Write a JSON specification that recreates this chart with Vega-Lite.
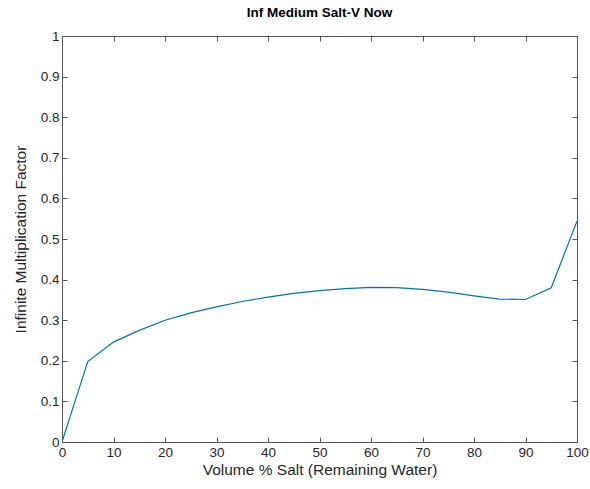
{
  "$schema": "https://vega.github.io/schema/vega-lite/v6.json",
  "autosize": "none",
  "padding": {"left": 62, "top": 36, "right": 13, "bottom": 47},
  "width": 515,
  "height": 406,
  "background": "white",
  "title": {"text": "Inf Medium Salt-V Now", "font": "Liberation Sans", "fontSize": 13.5, "fontWeight": "bold", "color": "#000000", "offset": 10},
  "config": {
    "view": {"stroke": "#555555", "strokeWidth": 1},
    "axis": {"grid": false, "domainColor": "#555555", "tickColor": "#555555", "labelColor": "#262626", "titleColor": "#262626", "labelFont": "Liberation Sans", "titleFont": "Liberation Sans", "labelFontSize": 13.5, "titleFontSize": 15.5, "titleFontWeight": "normal"}
  },
  "data": {"values": [
    {"x": 0, "y": 0.0},
    {"x": 5, "y": 0.198},
    {"x": 10, "y": 0.246},
    {"x": 15, "y": 0.275},
    {"x": 20, "y": 0.300},
    {"x": 25, "y": 0.318},
    {"x": 30, "y": 0.333},
    {"x": 35, "y": 0.346},
    {"x": 40, "y": 0.357},
    {"x": 45, "y": 0.366},
    {"x": 50, "y": 0.373},
    {"x": 55, "y": 0.378},
    {"x": 60, "y": 0.381},
    {"x": 65, "y": 0.380},
    {"x": 70, "y": 0.376},
    {"x": 75, "y": 0.369},
    {"x": 80, "y": 0.360},
    {"x": 85, "y": 0.352},
    {"x": 90, "y": 0.351},
    {"x": 95, "y": 0.380},
    {"x": 100, "y": 0.544}
  ]},
  "layer": [
    {
      "mark": {"type": "line", "color": "#0072BD", "strokeWidth": 1.2, "clip": true},
      "encoding": {
        "x": {"field": "x", "type": "quantitative", "scale": {"domain": [0, 100], "nice": false, "zero": false},
              "axis": {"values": [0,10,20,30,40,50,60,70,80,90,100], "title": "Volume % Salt (Remaining Water)", "tickSize": -5, "labelPadding": 8, "titlePadding": 4, "labelFlush": false}},
        "y": {"field": "y", "type": "quantitative", "scale": {"domain": [0, 1], "nice": false},
              "axis": {"values": [0,0.1,0.2,0.3,0.4,0.5,0.6,0.7,0.8,0.9,1], "format": "~g", "title": "Infinite Multiplication Factor", "tickSize": -5, "labelPadding": 8, "titlePadding": 12, "labelFlush": false}}
      }
    },
    {
      "mark": {"type": "line", "opacity": 0},
      "encoding": {
        "x": {"field": "x", "type": "quantitative", "axis": {"orient": "top", "values": [0,10,20,30,40,50,60,70,80,90,100], "labels": false, "title": null, "tickSize": -5}},
        "y": {"field": "y", "type": "quantitative", "axis": {"orient": "right", "values": [0,0.1,0.2,0.3,0.4,0.5,0.6,0.7,0.8,0.9,1], "labels": false, "title": null, "tickSize": -5}}
      }
    }
  ],
  "resolve": {"axis": {"x": "independent", "y": "independent"}}
}
